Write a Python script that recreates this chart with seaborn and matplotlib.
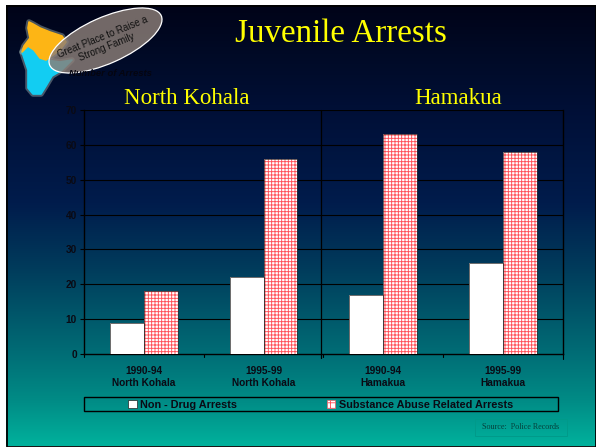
import numpy as np
import pandas as pd
import seaborn as sns
import matplotlib
matplotlib.use("Agg")
import matplotlib.pyplot as plt
from matplotlib.colors import LinearSegmentedColormap
from matplotlib.patches import Ellipse, Polygon, Rectangle

categories = ["1990-94\nNorth Kohala", "1995-99\nNorth Kohala", "1990-94\nHamakua", "1995-99\nHamakua"]
non_drug = [9, 22, 17, 26]
substance = [18, 56, 63, 58]
series_names = ["Non - Drug Arrests", "Substance Abuse Related Arrests"]
yticks = [0, 10, 20, 30, 40, 50, 60, 70]

W, H = 596, 447
sns.set_theme(style="white")
plt.rcParams["font.family"] = ["Liberation Sans", "DejaVu Sans"]
plt.rcParams["hatch.linewidth"] = 0.65
fig = plt.figure(figsize=(W / 100, H / 100), dpi=100, facecolor="white")

def box(x0, y0, x1, y1):
    return [x0 / W, 1 - y1 / H, (x1 - x0) / W, (y1 - y0) / H]

# slide background
bg = fig.add_axes([0, 0, 1, 1], zorder=0)
bg.axis("off")
cmap = LinearSegmentedColormap.from_list("slide", [
    (0.0, "#000318"), (0.11, "#000a26"), (0.25, "#001038"), (0.45, "#001c4c"),
    (0.6, "#003c5c"), (0.78, "#006a74"), (0.9, "#008c86"), (1.0, "#00b19c")])
bg.imshow(np.linspace(0, 1, 256)[:, None], cmap=cmap, aspect="auto",
          extent=(6, W, H - 1, 5), zorder=0)
bg.set_xlim(0, W); bg.set_ylim(H, 0)
bg.add_patch(Rectangle((7, 5.5), W - 7.5, H - 6, fill=False, ec="black", lw=1.3, zorder=1))

# island logo
orange = [(29, 22), (33, 24), (40, 28), (50, 32), (62, 36), (66, 42), (60, 50), (46, 60), (40, 58),
          (34, 50), (28, 46), (22, 52), (24, 46), (30, 38), (28, 28)]
cyan = [(22, 52), (28, 46), (34, 50), (40, 58), (46, 60), (60, 62), (72, 60), (62, 70), (52, 76),
        (46, 86), (41, 94), (33, 94), (28, 88), (28, 70)]
for pts, col in [(cyan, "#12cdf2"), (orange, "#fdb515")]:
    bg.add_patch(Polygon(pts, closed=True, fc="none", ec="#cfe6d8", lw=4, alpha=0.35, joinstyle="round", zorder=2))
for pts, col in [(cyan, "#12cdf2"), (orange, "#fdb515")]:
    bg.add_patch(Polygon(pts, closed=True, fc=col, ec=col, lw=1.2, joinstyle="round", zorder=2))
bg.add_patch(Ellipse((105.5, 40.5), 122, 46, angle=-24, fc="#8c7f78", ec="none", alpha=0.82, zorder=3))
bg.add_patch(Ellipse((105.5, 40.5), 122, 46, angle=-24, fc="none", ec="white", lw=0.9, zorder=3))
bg.text(105, 42, "Great Place to Raise a\nStrong Family", rotation=22, rotation_mode="anchor",
        ha="center", va="center", fontsize=6.9, color="#111111", zorder=4, linespacing=1.1)

# titles
bg.text(341, 34, "Juvenile Arrests", family="Liberation Serif", fontsize=23.8, color="#ffff00", ha="center", va="center", zorder=4)
bg.text(187, 98, "North Kohala", family="Liberation Serif", fontsize=16.5, color="#ffff00", ha="center", va="center", zorder=4)
bg.text(458, 98, "Hamakua", family="Liberation Serif", fontsize=16.5, color="#ffff00", ha="center", va="center", zorder=4)
bg.text(110, 73.5, "Number of Arrests", fontsize=6.8, weight="bold", style="italic", color="#050510", ha="center", va="center", zorder=5)

# chart
df = pd.DataFrame({
    "category": categories * 2,
    "value": non_drug + substance,
    "series": [series_names[0]] * 4 + [series_names[1]] * 4,
})
ax = fig.add_axes(box(84, 110, 562.7, 354), zorder=2)
ax.patch.set_alpha(0)
sns.barplot(data=df, x="category", y="value", hue="series", hue_order=series_names,
            palette=["white", "white"], width=0.565, gap=0, dodge=True, legend=False,
            errorbar=None, saturation=1, ax=ax, zorder=3)
ax.set_xlim(-0.5, 3.5)
ax.set_ylim(0, 70)
ax.set_yticks(yticks)
ax.set_xticks([0, 1, 2, 3])
ax.set_xticklabels(categories, linespacing=1.3)
ax.set_xlabel(""); ax.set_ylabel("")
ax.grid(False)
for y in yticks[1:]:
    ax.axhline(y, color="black", lw=0.8, zorder=1)
ax.plot([1.48, 1.48], [-1.2, 70], color="black", lw=0.9, clip_on=False, zorder=1)

n = len(categories)
for i, p in enumerate(ax.patches[:2 * n]):
    p.set_linewidth(0)
    if i >= n:
        p.set_hatch("+++++")
        p.set_edgecolor("#ff5058")
    ax.add_patch(Rectangle((p.get_x(), 0), p.get_width(), p.get_height(), fill=False,
                           ec="#303030", lw=0.5, zorder=4))

ax.spines["top"].set_visible(False)
for s in ["left", "bottom", "right"]:
    ax.spines[s].set_visible(True)
    ax.spines[s].set_color("black")
    ax.spines[s].set_linewidth(1.0)
ax.tick_params(axis="y", left=True, length=3, width=0.8, color="black", labelsize=7.3,
               labelcolor="#0a0a14", pad=2)
ax.tick_params(axis="x", bottom=False, labelsize=7.3, labelcolor="#0a0a14", pad=2.5)
for t in ax.get_yticklabels() + ax.get_xticklabels():
    t.set_fontweight("bold")
for v, drop in [(-0.5, -0.9), (0.5, -0.9), (1.5, -0.9), (2.5, -0.9), (3.5, -1.4)]:
    ax.plot([v, v], [0, drop], color="black", lw=0.8, clip_on=False, zorder=5)

# legend
bg.add_patch(Rectangle((83.5, 396.5), 474.5, 14.5, fill=False, ec="black", lw=1, zorder=4))
handles = [
    Rectangle((0, 0), 1, 1, fc="white", ec="#222222", lw=0.5),
    Rectangle((0, 0), 1, 1, fc="white", ec="#ff5058", lw=0.4, hatch="+++"),
]
leg = fig.legend(handles, series_names, loc="center", ncol=2, frameon=False,
                 bbox_to_anchor=(320.5 / W, 1 - 404.5 / H), prop=dict(weight="bold", size=7.85),
                 handlelength=0.8, handleheight=0.8, handletextpad=0.3, columnspacing=8.2, labelcolor="#0a0a14")
leg.set_zorder(6)

# source box
bg.add_patch(Rectangle((474.5, 419), 92, 17, fill=False, ec="#009a8a", lw=0.7, zorder=4))
bg.text(520.5, 427, "Source:  Police Records", family="Liberation Serif", fontsize=5.9,
        color="#06403c", ha="center", va="center", zorder=5)

fig.savefig("out.png", dpi=100, facecolor="white")
